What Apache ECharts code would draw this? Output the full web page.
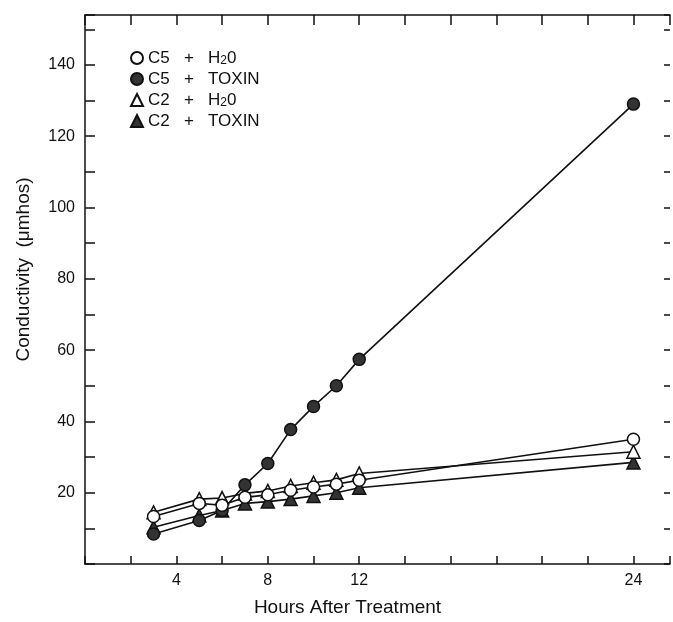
<!DOCTYPE html>
<html>
<head>
<meta charset="utf-8">
<script src="https://cdn.jsdelivr.net/npm/echarts@6/dist/echarts.min.js"></script>
<style>
  html, body { margin: 0; padding: 0; background: #fff; }
  #chart { width: 673px; height: 622px; }
</style>
</head>
<body>
<div id="chart"></div>
<script>
// hours after treatment
var hours = [3, 5, 6, 7, 8, 9, 10, 11, 12, 24];
// conductivity (umhos) per treatment
var c5Water = [13.3, 17, 16.5, 18.7, 19.4, 20.7, 21.6, 22.4, 23.5, 35];
var c5Toxin = [8.4, 12.2, 15, 22.2, 28.2, 37.7, 44.2, 50, 57.4, 129];
var c2Water = [14.5, 18.2, 18.5, 19.8, 20.5, 21.9, 22.8, 23.6, 25.4, 31.5];
var c2Toxin = [10.3, 13.6, 15, 17, 17.5, 18.2, 19.1, 20, 21.4, 28.5];
var xLabels = [4, 8, 12, 24];
var yLabels = [20, 40, 60, 80, 100, 120, 140];

function pairs(ys) {
  return hours.map(function(h, i) { return [h, ys[i]]; });
}

var ink = '#111';
var font = 'Liberation Sans, Arial, sans-serif';

function mk(name, ys, symbol, fill) {
  return {
    name: name,
    type: 'line',
    data: pairs(ys),
    symbol: symbol,
    symbolSize: symbol === 'triangle' ? 13 : 12,
    showSymbol: true,
    lineStyle: { color: ink, width: 1.6 },
    itemStyle: { color: fill, borderColor: ink, borderWidth: 1.5 },
    emphasis: { disabled: true },
    animation: false
  };
}

var myChart = echarts.init(document.getElementById('chart'));

var option = {
  animation: false,
  grid: { left: 85, right: 0, top: 15, bottom: 55 },
  legend: {
    orient: 'vertical',
    left: 125,
    top: 44,
    itemWidth: 12,
    itemHeight: 12,
    itemGap: 3,
    data: [
      { name: 'C5 + H2O', icon: 'circle' },
      { name: 'C5 + TOXIN', icon: 'circle' },
      { name: 'C2 + H2O', icon: 'triangle' },
      { name: 'C2 + TOXIN', icon: 'triangle' }
    ],
    formatter: function(n) {
      return n.replace('H2O', 'H{sub|2}0').replace(/ \+ /, '   +   ');
    },
    textStyle: {
      color: ink, fontSize: 17, fontFamily: font, lineHeight: 18,
      rich: { sub: { fontSize: 12, verticalAlign: 'bottom', padding: [7, 0, 0, 0], fontFamily: font, color: ink } }
    }
  },
  xAxis: [{
    type: 'value', position: 'bottom', min: 0, max: 25.6, interval: 2,
    name: 'Hours After Treatment', nameLocation: 'middle', nameGap: 34,
    nameTextStyle: { color: ink, fontSize: 19, fontFamily: font, padding: [0, 60, 0, 0] },
    axisLine: { onZero: false, lineStyle: { color: ink, width: 1.5 } },
    axisTick: { inside: true, length: 8, lineStyle: { color: ink, width: 1.5 } },
    axisLabel: {
      color: ink, fontSize: 16, fontFamily: font, margin: 9,
      formatter: function(v) { return xLabels.indexOf(v) >= 0 ? String(v) : ''; }
    },
    splitLine: { show: false }
  }, {
    type: 'value', position: 'top', min: 0, max: 25.6, interval: 2,
    axisLine: { onZero: false, lineStyle: { color: ink, width: 1.5 } },
    axisTick: { inside: true, length: 10, lineStyle: { color: ink, width: 1.5 } },
    axisLabel: { show: false },
    splitLine: { show: false }
  }],
  yAxis: [{
    type: 'value', position: 'left', min: 0, max: 154, interval: 10,
    name: 'Conductivity  (μmhos)', nameLocation: 'middle', nameGap: 52,
    nameTextStyle: { color: ink, fontSize: 19, fontFamily: font, padding: [0, 0, 0, 40] },
    axisLine: { onZero: false, lineStyle: { color: ink, width: 1.5 } },
    axisTick: { inside: true, length: 10, lineStyle: { color: ink, width: 1.5 } },
    axisLabel: {
      color: ink, fontSize: 16, fontFamily: font, margin: 10,
      formatter: function(v) { return yLabels.indexOf(v) >= 0 ? String(v) : ''; }
    },
    splitLine: { show: false }
  }, {
    type: 'value', position: 'right', min: 0, max: 154, interval: 10,
    axisLine: { show: false, onZero: false },
    axisTick: { show: true, inside: true, length: 6, lineStyle: { color: ink, width: 1.5 } },
    axisLabel: { show: false },
    splitLine: { show: false }
  }],
  series: [
    mk('C2 + TOXIN', c2Toxin, 'triangle', '#333'),
    mk('C2 + H2O', c2Water, 'triangle', '#fff'),
    mk('C5 + TOXIN', c5Toxin, 'circle', '#333'),
    mk('C5 + H2O', c5Water, 'circle', '#fff')
  ]
};

myChart.setOption(option);
</script>
</body>
</html>
